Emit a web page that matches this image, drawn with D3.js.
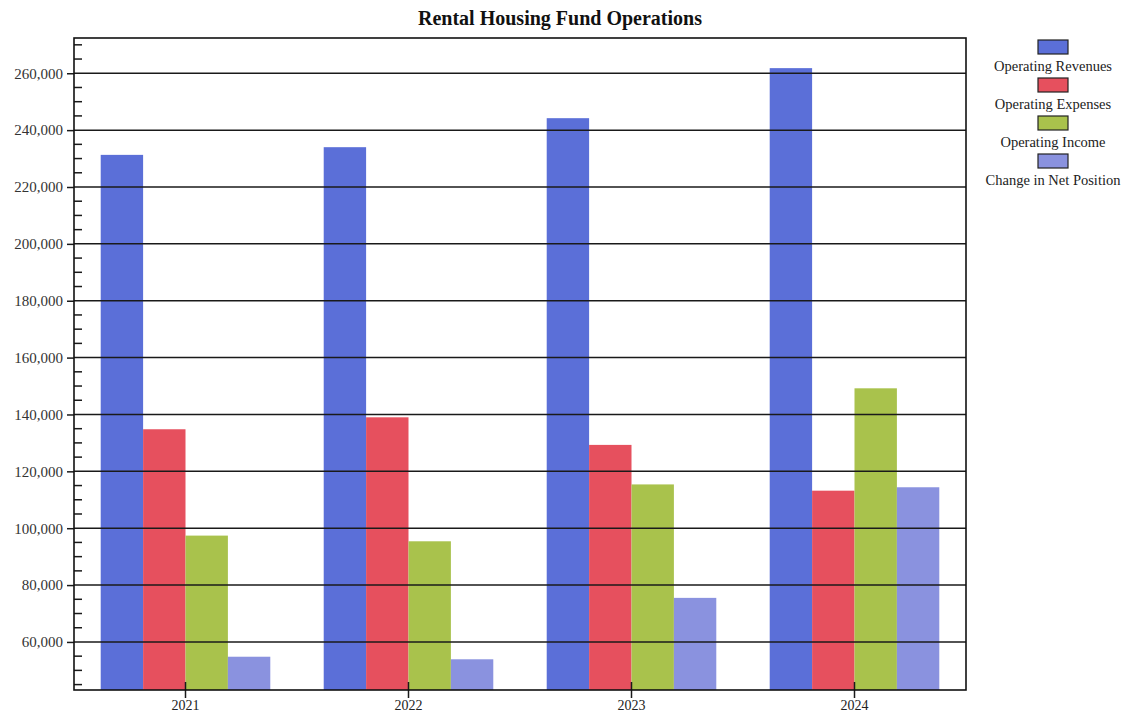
<!DOCTYPE html>
<html>
<head>
<meta charset="utf-8">
<script src="https://cdn.jsdelivr.net/npm/d3@7"></script>
<style>
  html, body { margin: 0; padding: 0; background: #fff; }
  svg { display: block; }
  text { font-family: "Liberation Serif", "Times New Roman", serif; }
</style>
</head>
<body>
<svg id="chart" width="1130" height="717"></svg>
<script>
// Fiscal years shown on the x axis
const years = ["2021", "2022", "2023", "2024"];

// One series per measure, values in dollars
const seriesNames = ["Operating Revenues", "Operating Expenses", "Operating Income", "Change in Net Position"];
const operatingRevenues = [231300, 234000, 244200, 261800];
const operatingExpenses = [134800, 139000, 129300, 113200];
const operatingIncome   = [97400, 95400, 115400, 149200];
const changeInNetPosition = [54800, 53900, 75500, 114400];

const seriesColors = ["#5b6fd8", "#e6505e", "#a9c24c", "#8a92df"];

// y axis labels and minor tick spacing
const yMajorTicks = [60000, 80000, 100000, 120000, 140000, 160000, 180000, 200000, 220000, 240000, 260000];
const yMinorStep = 5000;

const seriesValues = [operatingRevenues, operatingExpenses, operatingIncome, changeInNetPosition];
const rows = years.map((yr, i) => ({
  year: yr,
  values: seriesNames.map((name, s) => ({ name, value: seriesValues[s][i], color: seriesColors[s] }))
}));

const svg = d3.select("#chart");
const plot = { left: 74, right: 966, top: 38, bottom: 690 };

const x = d3.scaleBand().domain(years).range([plot.left, plot.right]).padding(0);
const xInner = d3.scaleBand().domain(seriesNames).range([0, x.bandwidth()]).paddingInner(0).paddingOuter(0.63);
const y = d3.scaleLinear().domain([43100, 272400]).range([plot.bottom, plot.top]);

// Title
svg.append("text")
  .attr("x", 560).attr("y", 25)
  .attr("text-anchor", "middle")
  .attr("font-size", 20).attr("font-weight", "bold").attr("fill", "#111")
  .text("Rental Housing Fund Operations");

// Bars
const groups = svg.append("g").selectAll("g").data(rows).join("g")
  .attr("transform", d => `translate(${x(d.year)},0)`);
groups.selectAll("rect").data(d => d.values).join("rect")
  .attr("x", d => xInner(d.name))
  .attr("width", xInner.bandwidth())
  .attr("y", d => y(d.value))
  .attr("height", d => plot.bottom - y(d.value))
  .attr("fill", d => d.color);

// Horizontal gridlines at major ticks, drawn over the bars
svg.append("g").selectAll("line").data(yMajorTicks).join("line")
  .attr("x1", plot.left).attr("x2", plot.right)
  .attr("y1", d => y(d)).attr("y2", d => y(d))
  .attr("stroke", "#1a1a1a").attr("stroke-width", 1.5);

// Minor ticks pointing into the plot
const minorTicks = d3.range(45000, 272400, yMinorStep).filter(v => !yMajorTicks.includes(v));
svg.append("g").selectAll("line").data(minorTicks).join("line")
  .attr("x1", plot.left).attr("x2", plot.left + 8)
  .attr("y1", d => y(d)).attr("y2", d => y(d))
  .attr("stroke", "#1a1a1a").attr("stroke-width", 1.5);

// Left axis with major ticks and labels
const yAxis = d3.axisLeft(y).tickValues(yMajorTicks).tickSize(7).tickPadding(4)
  .tickFormat(d3.format(","));
const gy = svg.append("g").attr("transform", `translate(${plot.left},0)`).call(yAxis);
gy.select(".domain").remove();
gy.selectAll(".tick line").attr("stroke", "#1a1a1a").attr("stroke-width", 1.5);
gy.selectAll(".tick text")
  .attr("font-family", "'Liberation Serif', serif").attr("font-size", 15).attr("fill", "#333");

// Bottom axis: ticks at group centers crossing the axis line
const xAxis = d3.axisBottom(x).tickSize(8).tickPadding(2);
const gx = svg.append("g").attr("transform", `translate(0,${plot.bottom})`).call(xAxis);
gx.select(".domain").remove();
gx.selectAll(".tick line").attr("y1", -8).attr("y2", 8).attr("stroke", "#1a1a1a").attr("stroke-width", 1.5);
gx.selectAll(".tick text")
  .attr("font-family", "'Liberation Serif', serif").attr("font-size", 14).attr("fill", "#222");

// Plot frame
svg.append("rect")
  .attr("x", plot.left).attr("y", plot.top)
  .attr("width", plot.right - plot.left).attr("height", plot.bottom - plot.top)
  .attr("fill", "none").attr("stroke", "#111").attr("stroke-width", 1.6);

// Legend: swatch above each label
const legend = svg.append("g").selectAll("g").data(seriesNames).join("g")
  .attr("transform", (d, i) => `translate(1053,${40 + i * 38})`);
legend.append("rect")
  .attr("x", -15).attr("y", 0).attr("width", 30).attr("height", 14)
  .attr("fill", (d, i) => seriesColors[i])
  .attr("stroke", "#222").attr("stroke-width", 1.2);
legend.append("text")
  .attr("x", 0).attr("y", 31)
  .attr("text-anchor", "middle")
  .attr("font-size", 14.5).attr("fill", "#222")
  .text(d => d);
</script>
</body>
</html>
